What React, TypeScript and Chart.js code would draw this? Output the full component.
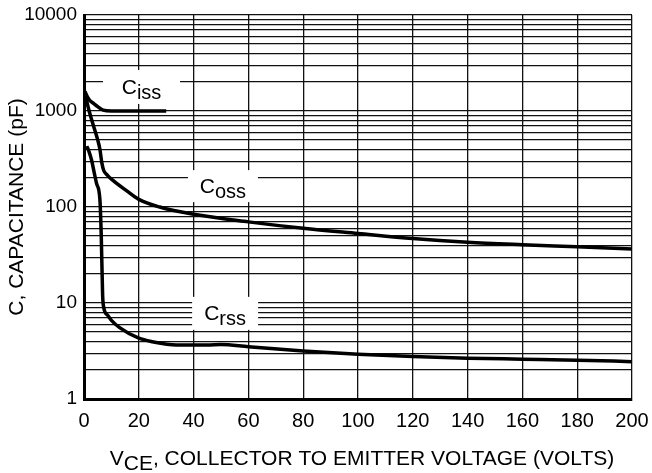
import React, { useEffect, useRef } from "react";
import { Chart, registerables } from "chart.js";

Chart.register(...registerables);

// ---- data ----
const xTickValues = [0, 20, 40, 60, 80, 100, 120, 140, 160, 180, 200];
const yDecades = [1, 10, 100, 1000, 10000];

const cissVce = [0.3, 1, 2, 3.5, 5, 7, 10, 20, 30];
const cissCap = [1600, 1450, 1300, 1200, 1110, 1020, 1000, 1000, 1000];

const cossVce = [0.3, 1.5, 3.4, 5, 5.8, 6.5, 7.2, 8.5, 10, 15.5, 20, 27.6, 40, 60, 80, 100, 120, 140, 160, 180, 200];
const cossCap = [1600, 1100, 710, 500, 400, 290, 240, 215, 195, 148, 120, 100, 84, 70, 60, 53, 47, 43, 40.5, 38.5, 36.5];

const crssVce = [1, 1.8, 2.8, 3.7, 4.6, 5.8, 6.3, 6.8, 7.2, 8.7, 10, 13, 20, 25, 33.7, 45, 50, 60, 80, 100, 120, 140, 160, 180, 200];
const crssCap = [430, 380, 305, 230, 175, 120, 50, 12, 9, 7.4, 6.6, 5.55, 4.3, 3.95, 3.66, 3.66, 3.7, 3.5, 3.17, 2.93, 2.77, 2.66, 2.6, 2.54, 2.45];

const curveNames = ["Ciss", "Coss", "Crss"];
const curveMain = ["C", "C", "C"];
const curveSub = ["iss", "oss", "rss"];
// label anchor (data coordinates)
const labelVce = [21, 50.7, 51.5];
const labelCap = [1780, 165, 7.8];

const yTitle = "C, CAPACITANCE (pF)";
const xTitleMain = "V";
const xTitleSub = "CE";
const xTitleRest = ", COLLECTOR TO EMITTER VOLTAGE (VOLTS)";

// ---- styles ----
const FONT = "'Liberation Sans', Arial, Helvetica, sans-serif";
const labelBoxW = [77, 70, 66];
const labelBoxH = [34, 32, 33];

function pts(xs: number[], ys: number[]) {
  return xs.map((x, i) => ({ x, y: ys[i] }));
}

function allLogTicks(): number[] {
  const out: number[] = [];
  for (let d = 0; d < yDecades.length - 1; d++) {
    for (let k = 1; k <= 9; k++) out.push(yDecades[d] * k);
  }
  out.push(yDecades[yDecades.length - 1]);
  return out;
}

const annotationPlugin = {
  id: "curveLabels",
  beforeDatasetsDraw(chart: any) {
    const { ctx, scales } = chart;
    const xs = scales.x;
    const ys = scales.y;
    ctx.save();
    for (let i = 0; i < curveNames.length; i++) {
      const cx = xs.getPixelForValue(labelVce[i]);
      const cy = ys.getPixelForValue(labelCap[i]);
      const w = labelBoxW[i];
      const h = labelBoxH[i];
      ctx.fillStyle = "#ffffff";
      ctx.fillRect(cx - w / 2, cy - h / 2, w, h);
      ctx.fillStyle = "#000000";
      ctx.textBaseline = "alphabetic";
      ctx.textAlign = "left";
      ctx.font = `21px ${FONT}`;
      const wMain = ctx.measureText(curveMain[i]).width;
      ctx.font = `20px ${FONT}`;
      const wSub = ctx.measureText(curveSub[i]).width;
      const startX = cx - (wMain + wSub) / 2;
      const base = cy + 7;
      ctx.font = `21px ${FONT}`;
      ctx.fillText(curveMain[i], startX, base);
      ctx.font = `20px ${FONT}`;
      ctx.fillText(curveSub[i], startX + wMain, base + 5);
    }
    ctx.restore();
  },
  afterDraw(chart: any) {
    const { ctx, chartArea } = chart;
    ctx.save();
    ctx.fillStyle = "#000000";
    ctx.textBaseline = "alphabetic";
    ctx.textAlign = "left";
    ctx.font = `21px ${FONT}`;
    const w1 = ctx.measureText(xTitleMain).width;
    const w2 = ctx.measureText(xTitleSub).width;
    const w3 = ctx.measureText(xTitleRest).width;
    const cx = (chartArea.left + chartArea.right) / 2 + 4;
    const sx = cx - (w1 + w2 + w3) / 2;
    const base = 465;
    ctx.fillText(xTitleMain, sx, base);
    ctx.fillText(xTitleSub, sx + w1, base + 5);
    ctx.fillText(xTitleRest, sx + w1 + w2, base);
    ctx.restore();
  },
};

export default function App() {
  const ref = useRef<HTMLCanvasElement | null>(null);
  useEffect(() => {
    if (!ref.current) return;
    const lineStyle = {
      borderColor: "#000000",
      borderWidth: 3.5,
      pointRadius: 0,
      fill: false,
      cubicInterpolationMode: "monotone" as const,
      showLine: true,
    };
    const chart = new Chart(ref.current, {
      type: "scatter",
      data: {
        datasets: [
          { label: curveNames[0], data: pts(cissVce, cissCap), ...lineStyle },
          { label: curveNames[1], data: pts(cossVce, cossCap), ...lineStyle },
          { label: curveNames[2], data: pts(crssVce, crssCap), ...lineStyle },
        ],
      },
      options: {
        responsive: false,
        animation: false,
        devicePixelRatio: 1,
        layout: { padding: { left: 0, right: 20, top: 15, bottom: 0 } },
        plugins: {
          legend: { display: false },
          tooltip: { enabled: false },
        },
        scales: {
          x: {
            type: "linear",
            min: 0,
            max: 200,
            afterBuildTicks: (scale: any) => {
              scale.ticks = xTickValues.map((v) => ({ value: v }));
            },
            ticks: {
              color: "#000",
              font: { family: FONT, size: 20 },
              padding: 10,
              maxRotation: 0,
              autoSkip: false,
            },
            grid: { color: "#111", lineWidth: 1.3, drawTicks: false },
            border: { color: "#000", width: 3 },
            afterFit: (scale: any) => {
              scale.height = 74;
              scale.paddingLeft = 0;
              scale.paddingRight = 0;
            },
          },
          y: {
            type: "logarithmic",
            min: 1,
            max: 10000,
            afterBuildTicks: (scale: any) => {
              scale.ticks = allLogTicks().map((v) => ({ value: v }));
            },
            ticks: {
              color: "#000",
              font: { family: FONT, size: 19 },
              padding: 7,
              autoSkip: false,
              callback: (v: any) => (yDecades.includes(Number(v)) ? String(v) : ""),
            },
            grid: { color: "#111", lineWidth: 1.3, drawTicks: false },
            border: { color: "#000", width: 3 },
            title: {
              display: true,
              text: yTitle,
              color: "#000",
              font: { family: FONT, size: 21 },
              padding: { top: 5, bottom: 0 },
            },
            afterFit: (scale: any) => {
              scale.width = 84;
              scale.paddingTop = 0;
              scale.paddingBottom = 0;
            },
          },
        },
      },
      plugins: [annotationPlugin],
    });
    return () => chart.destroy();
  }, []);
  return (
    <div style={{ position: "absolute", left: 0, top: 0, width: 652, height: 473, background: "#fff" }}>
      <canvas ref={ref} width={652} height={473} style={{ width: 652, height: 473 }} />
    </div>
  );
}
